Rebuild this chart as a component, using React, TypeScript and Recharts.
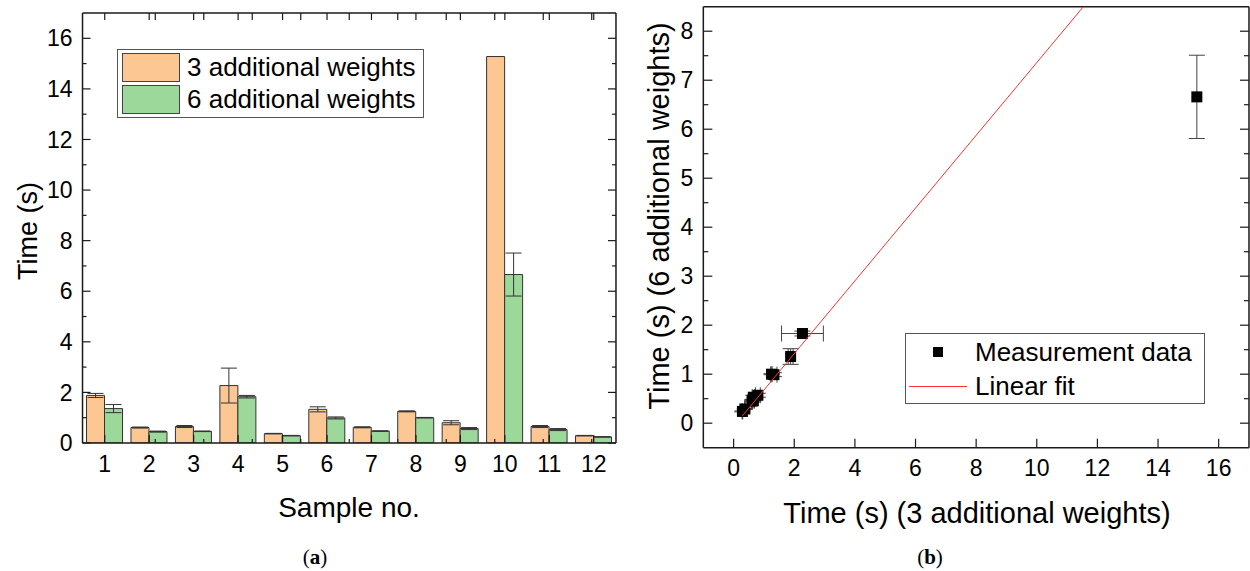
import React from 'react';
import { BarChart, Bar, XAxis, YAxis, ErrorBar, ScatterChart, Scatter } from 'recharts';

// sample numbers on the bar chart
const samples = ['1', '2', '3', '4', '5', '6', '7', '8', '9', '10', '11', '12'];

// times with 3 additional weights (s) and their errors
const time3 = [1.88, 0.61, 0.65, 2.27, 0.37, 1.33, 0.62, 1.25, 0.8, 15.28, 0.65, 0.29];
const time3Err = [0.08, 0.02, 0.04, 0.69, 0.01, 0.1, 0.02, 0.02, 0.08, 0, 0.04, 0.01];

// times with 6 additional weights (s) and their errors
const time6 = [1.36, 0.45, 0.46, 1.83, 0.29, 0.99, 0.47, 1.0, 0.57, 6.66, 0.53, 0.24];
const time6Err = [0.16, 0.02, 0.01, 0.05, 0.01, 0.04, 0.01, 0.01, 0.04, 0.85, 0.04, 0.01];

// linear fit end points
const fitLine = [
  { x: 0.29, y: 0.15 },
  { x: 15.28, y: 11.28 },
];

// tick values
const barYTicks = [0, 2, 4, 6, 8, 10, 12, 14, 16];
const barYMinor = [1, 3, 5, 7, 9, 11, 13, 15];
const barXMinor = [1.5, 2.5, 3.5, 4.5, 5.5, 6.5, 7.5, 8.5, 9.5, 10.5, 11.5];
const fitXTicks = [0, 2, 4, 6, 8, 10, 12, 14, 16];
const fitXMinor = [1, 3, 5, 7, 9, 11, 13, 15];
const fitYTicks = [0, 1, 2, 3, 4, 5, 6, 7, 8];
const fitYMinor = [0.5, 1.5, 2.5, 3.5, 4.5, 5.5, 6.5, 7.5];

const barData = samples.map((s, i) => ({
  sample: s,
  t3: time3[i],
  e3: time3Err[i],
  t6: time6[i],
  e6: time6Err[i],
}));

const pointData = samples.map((s, i) => ({
  x: time3[i],
  y: time6[i],
  xErr: time3Err[i],
  yErr: time6Err[i],
}));

const FONT = '"Liberation Sans", Arial, sans-serif';
const INK = '#1a1a1a';
const ORANGE = '#FCC793';
const GREEN = '#9DD89B';
const TICK = { fill: '#000', fontSize: 23, fontFamily: FONT };
const THIN = 0.01; // axes need a size > 0 to be drawn
const blank = () => '';
const axisLine = { stroke: INK, strokeWidth: 1.5 };
const tickLine = { stroke: INK, strokeWidth: 1.2 };

const Square = (props: any) => (
  <rect x={props.cx - 5.5} y={props.cy - 5.5} width={11} height={11} fill="#000" />
);

const abs = (left: number, top: number, extra: React.CSSProperties = {}): React.CSSProperties => ({
  position: 'absolute',
  left,
  top,
  ...extra,
});

const App = () => {
  return (
    <div style={{ position: 'absolute', left: 0, top: 0, width: 1250, height: 571, background: '#fff', fontFamily: FONT }}>
      {/* (a) bar chart */}
      <div style={abs(0, 0, { width: 630, height: 571, overflow: 'hidden' })}>
        <BarChart
          width={640}
          height={571}
          data={barData}
          margin={{ top: 13, right: 24, bottom: 128, left: 82.5 }}
          barSize={18}
          barGap={0}
        >
          <XAxis xAxisId="cat" dataKey="sample" height={THIN} interval={0} tickSize={-8} tickMargin={21}
            axisLine={axisLine} tickLine={tickLine} tick={TICK} />
          <XAxis xAxisId="catMinor" type="number" domain={[0.5, 12.5]} ticks={barXMinor} allowDataOverflow
            height={THIN} axisLine={false} tickSize={-4} tickLine={tickLine} tickFormatter={blank} />
          <XAxis xAxisId="top" dataKey="sample" orientation="top" height={THIN} interval={0} tickSize={-7}
            axisLine={axisLine} tickLine={tickLine} tickFormatter={blank} />
          <XAxis xAxisId="topMinor" type="number" orientation="top" domain={[0.5, 12.5]} ticks={barXMinor}
            allowDataOverflow height={THIN} axisLine={false} tickSize={-7} tickLine={tickLine} tickFormatter={blank} />
          <YAxis yAxisId="left" domain={[0, 17]} ticks={barYTicks} allowDataOverflow width={THIN} tickSize={-8}
            tickMargin={18} axisLine={axisLine} tickLine={tickLine} tick={TICK} />
          <YAxis yAxisId="leftMinor" domain={[0, 17]} ticks={barYMinor} allowDataOverflow width={THIN} tickSize={-4}
            axisLine={false} tickLine={tickLine} tickFormatter={blank} />
          <YAxis yAxisId="right" orientation="right" domain={[0, 17]} ticks={barYTicks} allowDataOverflow width={THIN}
            tickSize={-8} axisLine={axisLine} tickLine={tickLine} tickFormatter={blank} />
          <YAxis yAxisId="rightMinor" orientation="right" domain={[0, 17]} ticks={barYMinor} allowDataOverflow
            width={THIN} tickSize={-4} axisLine={false} tickLine={tickLine} tickFormatter={blank} />
          <Bar xAxisId="cat" yAxisId="left" dataKey="t3" fill={ORANGE} stroke="#333" strokeWidth={1} isAnimationActive={false}>
            <ErrorBar dataKey="e3" width={8} stroke="#333" strokeWidth={1} />
          </Bar>
          <Bar xAxisId="cat" yAxisId="left" dataKey="t6" fill={GREEN} stroke="#333" strokeWidth={1} isAnimationActive={false}>
            <ErrorBar dataKey="e6" width={8} stroke="#333" strokeWidth={1} />
          </Bar>
        </BarChart>
      </div>

      {/* legend (a) */}
      <div style={abs(117, 49, { width: 307, height: 69, border: '1px solid #555', boxSizing: 'border-box' })} />
      <div style={abs(122, 53, { width: 58, height: 29, background: ORANGE, border: '1px solid #444', boxSizing: 'border-box' })} />
      <div style={abs(122, 85, { width: 58, height: 29, background: GREEN, border: '1px solid #444', boxSizing: 'border-box' })} />
      <div style={abs(187, 53, { fontSize: 26, lineHeight: '29px', whiteSpace: 'nowrap' })}>3 additional weights</div>
      <div style={abs(187, 85, { fontSize: 26, lineHeight: '29px', whiteSpace: 'nowrap' })}>6 additional weights</div>

      {/* axis titles (a) */}
      <div style={abs(28, 231, { fontSize: 27, whiteSpace: 'nowrap', transform: 'translate(-50%, -50%) rotate(-90deg)' })}>Time (s)</div>
      <div style={abs(349, 508, { fontSize: 28, whiteSpace: 'nowrap', transform: 'translate(-50%, -50%)' })}>Sample no.</div>
      <div style={abs(315, 557, { fontSize: 21, fontFamily: '"Liberation Serif", serif', transform: 'translate(-50%, -50%)' })}>
        (<b>a</b>)
      </div>

      {/* (b) scatter with linear fit */}
      <div style={abs(640, 0)}>
        <ScatterChart width={610} height={571} margin={{ top: 6.7, right: 1, bottom: 123.3, left: 63.3 }}>
          <XAxis xAxisId="x" type="number" dataKey="x" domain={[-1, 17]} ticks={fitXTicks} allowDataOverflow height={THIN}
            tickSize={-9} tickMargin={21} axisLine={axisLine} tickLine={tickLine} tick={TICK} />
          <XAxis xAxisId="xMinor" type="number" domain={[-1, 17]} ticks={fitXMinor} allowDataOverflow height={THIN}
            tickSize={-5} axisLine={false} tickLine={tickLine} tickFormatter={blank} />
          <XAxis xAxisId="top" type="number" orientation="top" domain={[-1, 17]} ticks={fitXTicks} allowDataOverflow
            height={THIN} tickSize={-9} axisLine={axisLine} tickLine={tickLine} tickFormatter={blank} />
          <XAxis xAxisId="topMinor" type="number" orientation="top" domain={[-1, 17]} ticks={fitXMinor}
            allowDataOverflow height={THIN} tickSize={-5} axisLine={false} tickLine={tickLine} tickFormatter={blank} />
          <YAxis yAxisId="y" type="number" dataKey="y" domain={[-0.5, 8.5]} ticks={fitYTicks} allowDataOverflow width={THIN}
            tickSize={-9} tickMargin={19} axisLine={axisLine} tickLine={tickLine} tick={TICK} />
          <YAxis yAxisId="yMinor" type="number" domain={[-0.5, 8.5]} ticks={fitYMinor} allowDataOverflow width={THIN}
            tickSize={-5} axisLine={false} tickLine={tickLine} tickFormatter={blank} />
          <YAxis yAxisId="right" type="number" orientation="right" domain={[-0.5, 8.5]} ticks={fitYTicks}
            allowDataOverflow width={THIN} tickSize={-9} axisLine={axisLine} tickLine={tickLine} tickFormatter={blank} />
          <YAxis yAxisId="rightMinor" type="number" orientation="right" domain={[-0.5, 8.5]} ticks={fitYMinor}
            allowDataOverflow width={THIN} tickSize={-5} axisLine={false} tickLine={tickLine} tickFormatter={blank} />
          <Scatter xAxisId="x" yAxisId="y" data={pointData} shape={Square} isAnimationActive={false}>
            <ErrorBar dataKey="xErr" direction="x" width={8} stroke="#444" strokeWidth={1} />
            <ErrorBar dataKey="yErr" direction="y" width={8} stroke="#444" strokeWidth={1} />
          </Scatter>
          <Scatter xAxisId="x" yAxisId="y" data={fitLine} line={{ stroke: '#ff3030', strokeWidth: 1 }}
            shape={() => <g />} isAnimationActive={false} />
        </ScatterChart>
      </div>

      {/* legend (b) */}
      <div style={abs(905, 333, { width: 300, height: 71, border: '1px solid #555', boxSizing: 'border-box' })} />
      <div style={abs(933, 347, { width: 10, height: 10, background: '#000' })} />
      <div style={abs(909, 385.5, { width: 58, height: 1, background: '#ff3030' })} />
      <div style={abs(975, 337, { fontSize: 26, lineHeight: '30px', whiteSpace: 'nowrap' })}>Measurement data</div>
      <div style={abs(975, 371, { fontSize: 26, lineHeight: '30px', whiteSpace: 'nowrap' })}>Linear fit</div>

      {/* axis titles (b) */}
      <div style={abs(659, 216, { fontSize: 29, whiteSpace: 'nowrap', transform: 'translate(-50%, -50%) rotate(-90deg)' })}>
        Time (s) (6 additional weights)
      </div>
      <div style={abs(977, 513, { fontSize: 29, whiteSpace: 'nowrap', transform: 'translate(-50%, -50%)' })}>
        Time (s) (3 additional weights)
      </div>
      <div style={abs(930, 557, { fontSize: 21, fontFamily: '"Liberation Serif", serif', transform: 'translate(-50%, -50%)' })}>
        (<b>b</b>)
      </div>
    </div>
  );
};

export default App;
